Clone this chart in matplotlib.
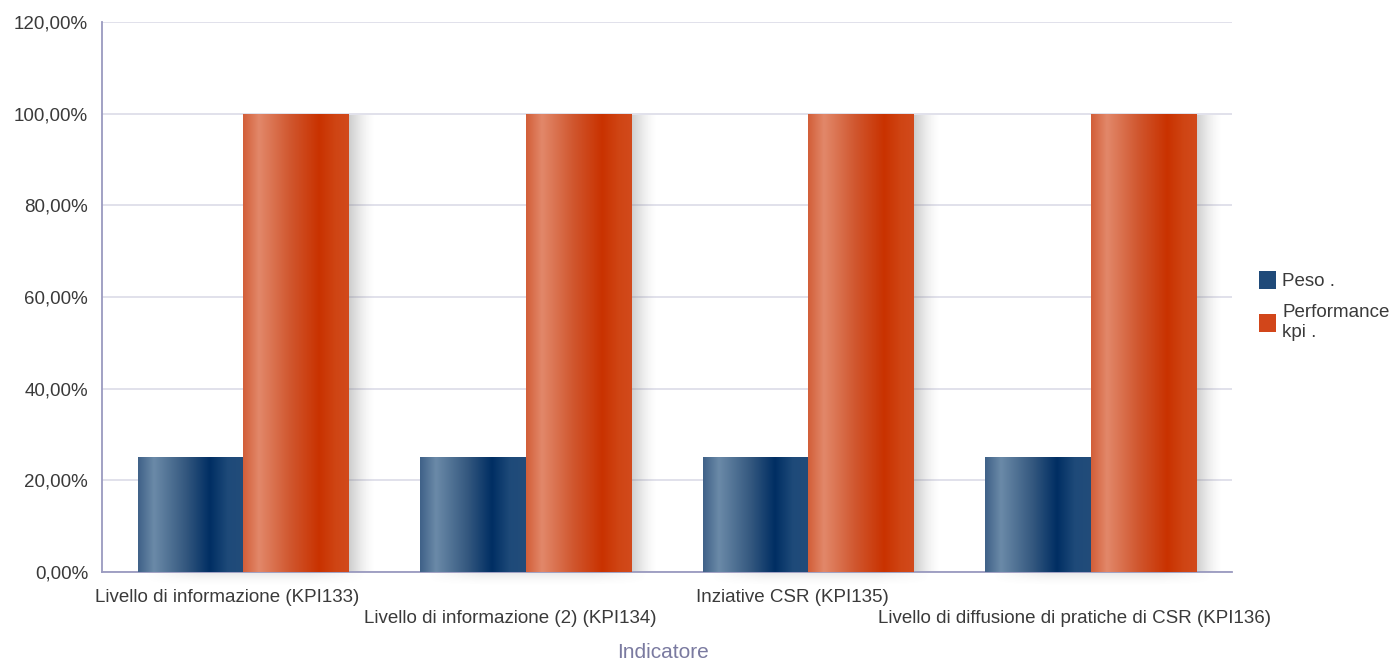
import numpy as np
import matplotlib
matplotlib.use('Agg')
import matplotlib.pyplot as plt
from matplotlib.colors import LinearSegmentedColormap
from matplotlib.ticker import FuncFormatter, MultipleLocator
import matplotlib.transforms as mtransforms

categories = [
    "Livello di informazione (KPI133)",
    "Livello di informazione (2) (KPI134)",
    "Inziative CSR (KPI135)",
    "Livello di diffusione di pratiche di CSR (KPI136)",
]
peso = [25, 25, 25, 25]
performance = [100, 100, 100, 100]
series_names = ["Peso .", "Performance\nkpi ."]

plt.rcParams['font.family'] = ['Liberation Sans', 'DejaVu Sans']

blue_cmap = LinearSegmentedColormap.from_list("blu", [
    (0.0, "#3f6188"), (0.15, "#6b8aa8"), (0.45, "#34587f"),
    (0.68, "#002e63"), (0.85, "#1e4a79"), (1.0, "#224c7a")])
orange_cmap = LinearSegmentedColormap.from_list("ora", [
    (0.0, "#d25e38"), (0.15, "#e2886a"), (0.45, "#d0562e"),
    (0.72, "#c93200"), (0.88, "#cf4514"), (1.0, "#d24a1c")])

fig = plt.figure(figsize=(13.95, 6.63), dpi=100)
ax = fig.add_axes([0.0731, 0.1373, 0.8101, 0.8295])

x = np.arange(len(categories))
w = 0.373
grad = np.linspace(0, 1, 256).reshape(1, -1)


def draw_bars(xs, vals, cmap, label):
    bars = ax.bar(xs, vals, width=w, color='none', edgecolor='none', label=label, zorder=3)
    for b in bars:
        x0, h = b.get_x(), b.get_height()
        im = ax.imshow(grad, extent=[x0, x0 + b.get_width(), 0, h], aspect='auto',
                       cmap=cmap, zorder=3, interpolation='bicubic')
        im.set_clip_path(b)
    return bars


def draw_shadow(bar_l, bar_r):
    # soft shadow to the right of the group and below the base
    x0 = bar_l.get_x()
    x1 = bar_r.get_x() + bar_r.get_width()
    h = bar_r.get_height()
    sw = 0.09
    fade = np.linspace(1, 0, 64) ** 1.5
    rgba = np.zeros((1, 64, 4))
    rgba[..., :3] = 0.45
    rgba[..., 3] = fade * 0.36
    ax.imshow(rgba, extent=[x1, x1 + sw, 0, h * 0.995], aspect='auto', zorder=2,
              interpolation='bicubic')
    nx = 64
    edge = np.minimum(1, np.minimum(np.linspace(0, 4, nx), np.linspace(4, 0, nx)))
    vert = np.zeros((16, nx, 4))
    vert[..., :3] = 0.45
    vert[..., 3] = np.outer(np.linspace(1, 0, 16) ** 1.5, edge) * 0.16
    im = ax.imshow(vert, extent=[x0 + 0.02, x1 + sw * 0.7, -3.0, 0], aspect='auto',
                   zorder=2, interpolation='bicubic')
    im.set_clip_on(False)


b1 = draw_bars(x - w / 2, peso, blue_cmap, series_names[0])
b2 = draw_bars(x + w / 2, performance, orange_cmap, series_names[1])
for bl, br in zip(b1, b2):
    draw_shadow(bl, br)

ax.set_xlim(-0.5, len(categories) - 0.5)
ax.set_ylim(0, 120)
ax.yaxis.set_major_locator(MultipleLocator(20))
ax.yaxis.set_major_formatter(FuncFormatter(lambda v, p: f"{v:.2f}".replace('.', ',') + "%"))
ax.grid(axis='y', color='#dcdce8', linewidth=1.2, zorder=0)
ax.set_axisbelow(True)

for s in ['top', 'right']:
    ax.spines[s].set_visible(False)
for s in ['left', 'bottom']:
    ax.spines[s].set_color('#9a9abf')
    ax.spines[s].set_linewidth(1.3)

ax.tick_params(axis='y', length=0, pad=10, labelsize=13.5, labelcolor='#3a3a3a')
ax.tick_params(axis='x', length=0, labelsize=13.5, labelcolor='#3a3a3a', pad=12)
ax.set_xticks(x)
ax.set_xticklabels(categories)
shift = mtransforms.ScaledTranslation(-16 / 100, 0, fig.dpi_scale_trans)
for i, t in enumerate(ax.get_xticklabels()):
    t.set_transform(t.get_transform() + shift)
    t.set_y(0.0 if i % 2 == 0 else -0.038)

fig.text(0.475, 0.002, "Indicatore", fontsize=15, color='#7a7aa0', ha='center', va='bottom')

handles = [plt.Rectangle((0, 0), 1, 1, facecolor='#1f4a79', edgecolor='none'),
           plt.Rectangle((0, 0), 1, 1, facecolor='#d2461a', edgecolor='none')]
leg = fig.legend(handles, series_names, loc='upper left', bbox_to_anchor=(0.8955, 0.605),
                 frameon=False, fontsize=13.5, handlelength=0.95, handleheight=1.05,
                 handletextpad=0.3, labelspacing=0.75, borderpad=0)
for t in leg.get_texts():
    t.set_color('#3a3a3a')

fig.savefig("out.png", dpi=100)
